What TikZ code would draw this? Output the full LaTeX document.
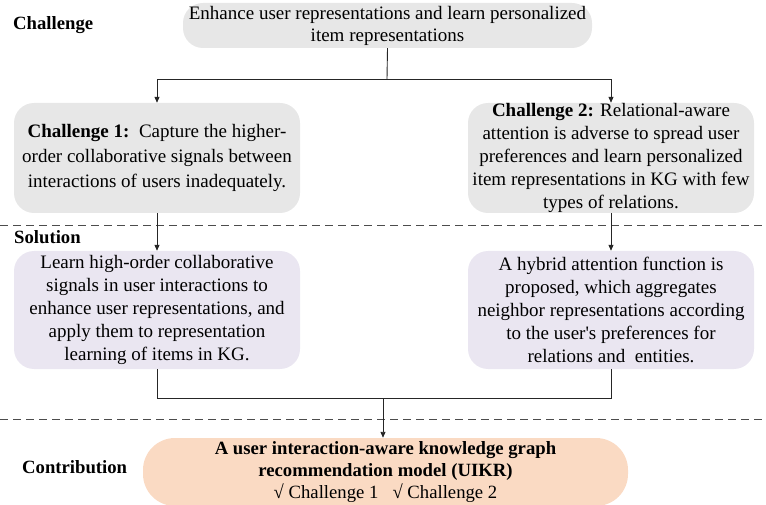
\documentclass[tikz,border=0pt]{standalone}
\usepackage{fontspec}
\setmainfont{Liberation Serif}
\usetikzlibrary{arrows.meta}
\definecolor{boxgray}{HTML}{E7E7E7}
\definecolor{boxlav}{HTML}{EAE6F1}
\definecolor{boxpeach}{HTML}{FADAC3}
\tikzset{
  box/.style={rounded corners=20pt, inner sep=0pt, align=center,
    font=\fontsize{19}{23}\selectfont},
  lbl/.style={anchor=west, inner sep=0pt, font=\fontsize{18.7}{20}\selectfont\bfseries},
  conn/.style={line width=0.9pt, black!85},
  arr/.style={conn, -{Triangle[length=6pt,width=5pt]}},
  sep/.style={line width=0.9pt, black!70, dash pattern=on 8pt off 5pt},
}
\begin{document}
\begin{tikzpicture}[x=1pt,y=-1pt]
\useasboundingbox (0,0) rectangle (766,505);
\draw[sep] (0,225) -- (766,225);
\draw[sep] (0,419) -- (766,419);

\node[lbl] (lc) at (13,25) {Challenge};
\node[lbl] (ls) at (14,237) {Solution};
\node[lbl] (lk) at (22,467) {Contribution};

\node[box, fill=boxgray, minimum width=409pt, minimum height=45pt, font=\fontsize{19}{22}\selectfont] (t) at (387.5,25.5)
  {Enhance user representations and learn personalized\\item representations};
\node[box, fill=boxgray, minimum width=286pt, minimum height=110pt,
  font=\fontsize{19}{25}\selectfont] (c1) at (157,158)
  {\textbf{Challenge 1:}\, Capture the higher-\\order collaborative signals between\\interactions of users inadequately.};
\node[box, fill=boxgray, minimum width=286pt, minimum height=110pt] (c2) at (611,158)
  {\textbf{Challenge 2:} Relational-aware\\attention is adverse to spread user\\preferences and learn personalized\\item representations in KG with few\\types of relations.};
\node[box, fill=boxlav, minimum width=286pt, minimum height=118pt] (s1) at (157,310)
  {Learn high-order collaborative\\signals in user interactions to\\enhance user representations, and\\apply them to representation\\learning of items in KG.};
\node[box, fill=boxlav, minimum width=286pt, minimum height=118pt] (s2) at (611,310)
  {A hybrid attention function is\\proposed, which aggregates\\neighbor representations according\\to the user\textquotesingle s preferences for\\relations and\ \ entities.};
\node[box, fill=boxpeach, rounded corners=32pt, minimum width=485pt, minimum height=68pt,
  font=\fontsize{18.7}{22}\selectfont] (k) at (385.5,472)
  {\textbf{A user interaction-aware knowledge graph}\\\textbf{recommendation model (UIKR)}\\√ Challenge 1\ \ \ √ Challenge 2};

\coordinate (j1) at (387,79);
\coordinate (j2) at (383,398);
\draw[conn] (t.south) -- (j1);
\draw[arr] (j1) -| (c1.north);
\draw[arr] (j1) -| (c2.north);
\draw[arr] (c1.south) -- (s1.north);
\draw[arr] (c2.south) -- (s2.north);
\draw[conn] (s1.south) |- (j2);
\draw[conn] (s2.south) |- (j2);
\draw[arr] (j2) -- (j2 |- k.north);
\end{tikzpicture}
\end{document}
